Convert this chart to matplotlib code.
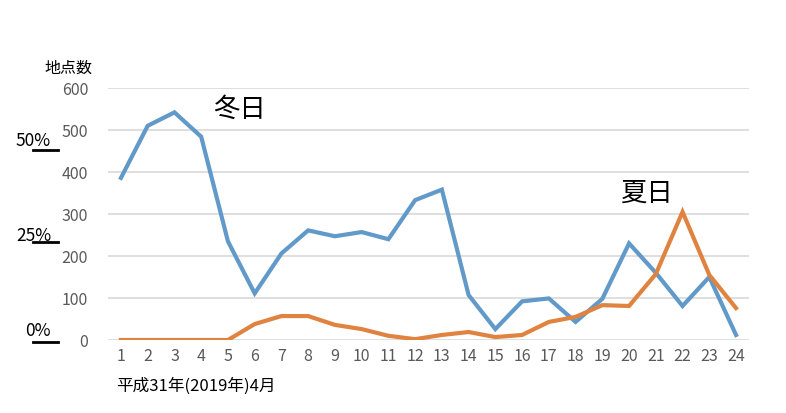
import matplotlib.pyplot as plt

plt.rcParams["font.family"] = ["Noto Sans CJK JP", "DejaVu Sans"]

days = list(range(1, 25))
fuyubi = [386, 510, 542, 484, 235, 111, 206, 261, 247, 257, 240, 333, 358, 107, 26, 92, 99, 43, 98, 230, 160, 81, 150, 12]
natsubi = [0, 0, 0, 0, 0, 38, 57, 57, 36, 26, 10, 2, 12, 19, 7, 12, 43, 55, 83, 81, 157, 305, 155, 76]
yticks = [0, 100, 200, 300, 400, 500, 600]
pct_labels = ["50%", "25%", "0%"]

fig = plt.figure(figsize=(7.86, 4.14), dpi=100)
ax = fig.add_axes([107.6 / 786, 1 - 341 / 414, (749.4 - 107.6) / 786, (341 - 89) / 414])

ax.plot(days, fuyubi, color="#6199c9", lw=3, solid_joinstyle="miter")
ax.plot(days, natsubi, color="#e08340", lw=3, solid_joinstyle="miter")

ax.set_xlim(0.5, 24.5)
ax.set_ylim(0, 600)
ax.set_yticks(yticks)
ax.set_xticks(days)
ax.grid(axis="y", color="#d9d9d9", lw=1.2)
ax.set_axisbelow(True)
for s in ["top", "right", "left", "bottom"]:
    ax.spines[s].set_visible(False)
ax.tick_params(length=0, colors="#595959", labelsize=11.5)
ax.tick_params(axis="y", pad=14)
ax.tick_params(axis="x", pad=5)

# labels
fig.text(68 / 786, 1 - 68 / 414, "地点数", fontsize=11.5, ha="center", va="center")
fig.text(116 / 786, 1 - 386 / 414, "平成31年(2019年)4月", fontsize=12, ha="left", va="center")
bbox = dict(facecolor="white", edgecolor="none", pad=2)
ax.text(5.45, 552, "冬日", fontsize=19, ha="center", va="center", bbox=bbox)
ax.text(20.65, 352, "夏日", fontsize=19, ha="center", va="center", bbox=bbox)

# percentage markers on the left
for lab, ty, by in zip(pct_labels, [141.5, 236, 331.5], [151, 243, 343]):
    fig.text(51 / 786, 1 - ty / 414, lab, fontsize=12.5, ha="right", va="center")
    fig.add_artist(plt.Line2D([33 / 786, 58 / 786], [1 - by / 414, 1 - by / 414], color="black", lw=2,
                              transform=fig.transFigure))

fig.savefig("out.png", dpi=100)
